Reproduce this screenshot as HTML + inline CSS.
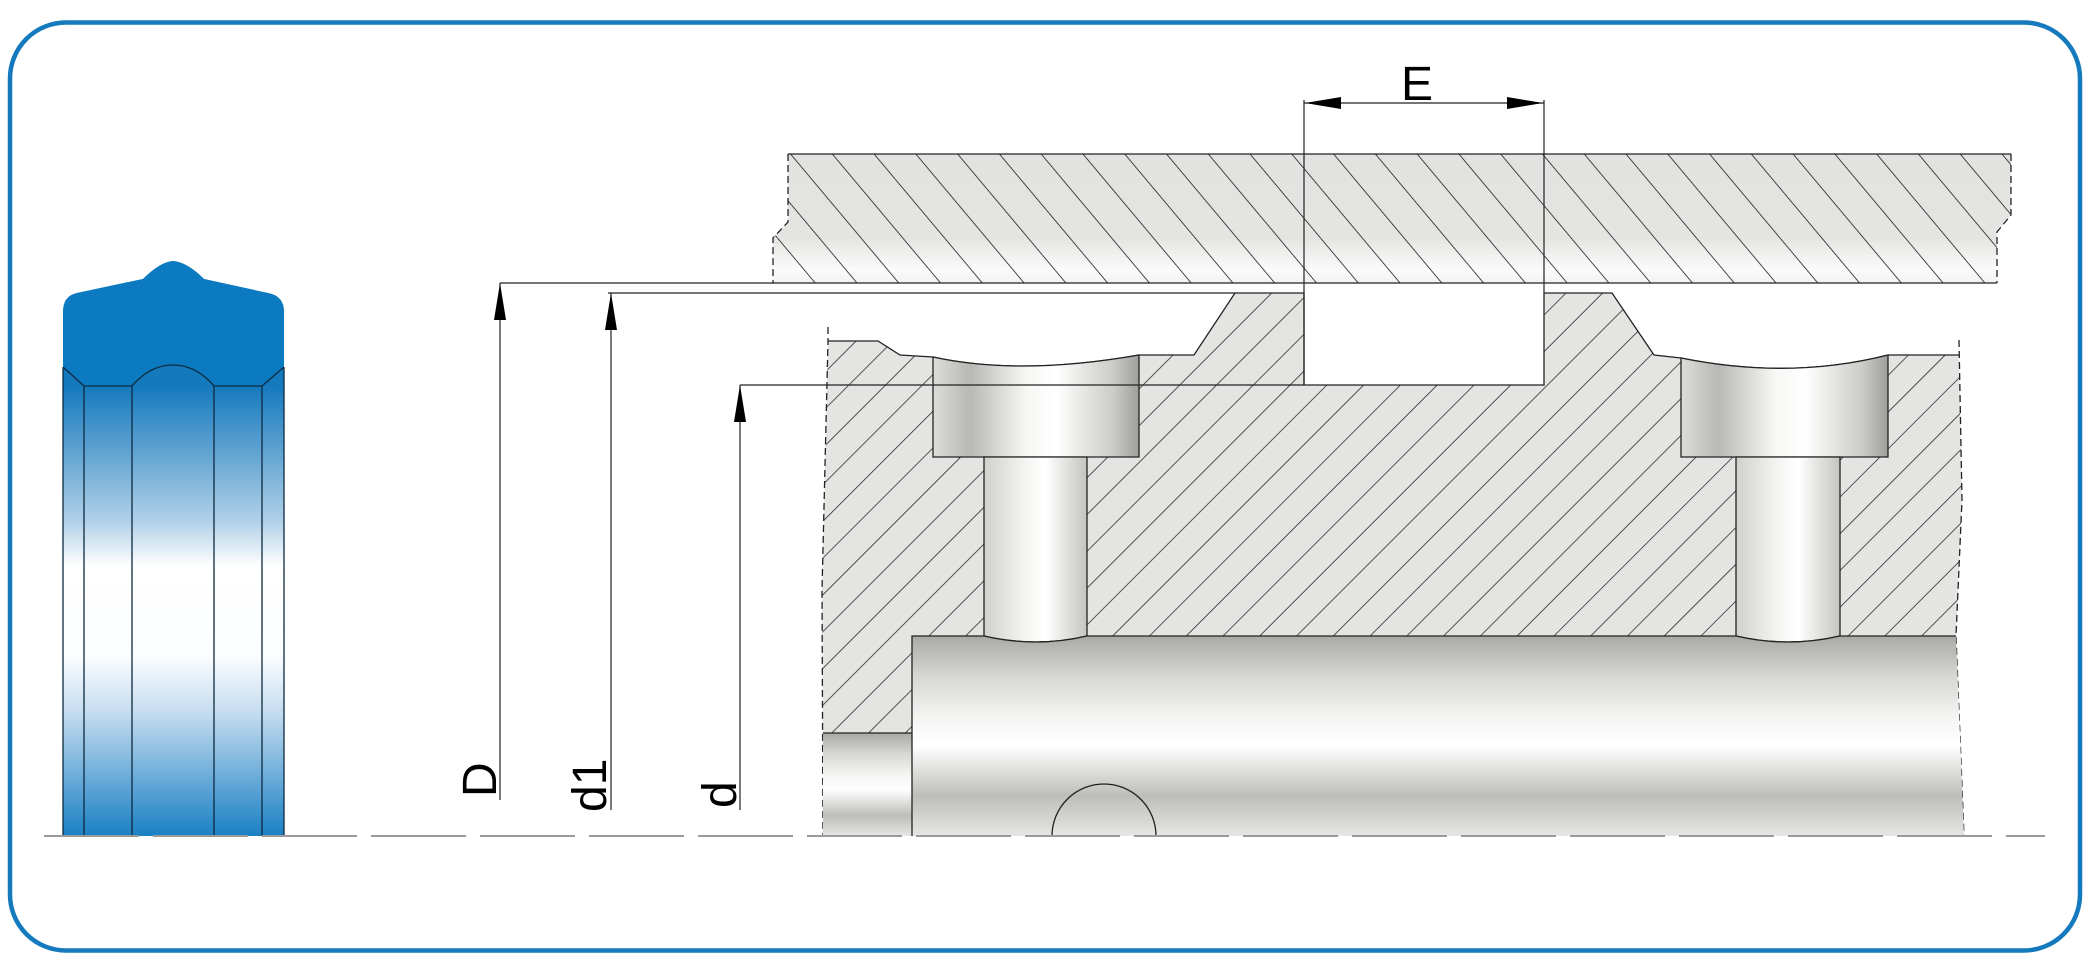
<!DOCTYPE html>
<html><head><meta charset="utf-8"><style>html,body{margin:0;padding:0;background:#fff}svg{display:block}</style></head>
<body>
<svg width="2092" height="961" viewBox="0 0 2092 961" xmlns="http://www.w3.org/2000/svg">
<defs>
<pattern id="h1" patternUnits="userSpaceOnUse" width="32" height="32" patternTransform="translate(790,154) rotate(-40)">
<line x1="0" y1="-5" x2="0" y2="40" stroke="#111" stroke-width="1.5"/></pattern>
<pattern id="h2" patternUnits="userSpaceOnUse" width="26" height="26" patternTransform="translate(830,293) rotate(45)">
<line x1="0" y1="-5" x2="0" y2="40" stroke="#222" stroke-width="1.5"/></pattern>
<linearGradient id="plate" x1="0" y1="0" x2="0" y2="1">
<stop offset="0" stop-color="#e2e2e0"/><stop offset="0.65" stop-color="#e4e4e2"/><stop offset="0.9" stop-color="#fbfbfb"/><stop offset="1" stop-color="#f2f2f0"/></linearGradient>
<linearGradient id="shaft" x1="0" y1="0" x2="0" y2="1">
<stop offset="0" stop-color="#a9a9a5"/><stop offset="0.2" stop-color="#d6d6d3"/><stop offset="0.42" stop-color="#f6f6f5"/><stop offset="0.55" stop-color="#ffffff"/><stop offset="0.8" stop-color="#bdbdb9"/><stop offset="1" stop-color="#e6e6e4"/></linearGradient>
<linearGradient id="bore" x1="0" y1="0" x2="1" y2="0">
<stop offset="0" stop-color="#dcdcda"/><stop offset="0.18" stop-color="#b8b8b4"/><stop offset="0.45" stop-color="#f6f6f4"/><stop offset="0.6" stop-color="#ffffff"/><stop offset="0.88" stop-color="#cacac6"/><stop offset="1" stop-color="#9e9e9a"/></linearGradient>
<linearGradient id="pipe" x1="0" y1="0" x2="1" y2="0">
<stop offset="0" stop-color="#d0d0cd"/><stop offset="0.4" stop-color="#f4f4f2"/><stop offset="0.6" stop-color="#ffffff"/><stop offset="1" stop-color="#c4c4c0"/></linearGradient>
<linearGradient id="seal" x1="0" y1="386" x2="0" y2="836" gradientUnits="userSpaceOnUse">
<stop offset="0" stop-color="#1479bd"/><stop offset="0.3" stop-color="#b0d0e8"/><stop offset="0.4" stop-color="#ffffff"/><stop offset="0.6" stop-color="#fbfdff"/><stop offset="0.72" stop-color="#c8def0"/><stop offset="1" stop-color="#1a80c4"/></linearGradient>
</defs>

<rect x="10" y="22.5" width="2070" height="928" rx="56" ry="56" fill="none" stroke="#1479bd" stroke-width="4.5"/>

<path d="M63,386 L63,312 Q63,296 77,293 L143,279 Q160,262 173,261 Q187,262 204,279 L268,293 Q284,296 284,312 L284,836 L63,836 Z" fill="url(#seal)"/>
<path d="M63,312 Q63,296 77,293 L143,279 Q160,262 173,261 Q187,262 204,279 L268,293 Q284,296 284,312 L284,367 L262,386 L214,386 Q196,365 173,365 Q150,365 132,386 L84,386 L63,367 Z" fill="#0c7ac0"/>
<g stroke="#0d2a40" stroke-width="1.3" fill="none">
<path d="M63,367 L84,386 L132,386 Q150,365 173,365 Q196,365 214,386 L262,386 L284,367"/>
<line x1="84" y1="386" x2="84" y2="836"/><line x1="132" y1="386" x2="132" y2="836"/>
<line x1="214" y1="386" x2="214" y2="836"/><line x1="262" y1="386" x2="262" y2="836"/>
<line x1="63" y1="367" x2="63" y2="836"/><line x1="284" y1="367" x2="284" y2="836"/>
</g>

<path d="M788,154 L2011,154 L2011,215 L1997,232 L1997,283 L773,283 L773,238 L788,222 Z" fill="url(#plate)"/>
<path d="M788,154 L2011,154 L2011,215 L1997,232 L1997,283 L773,283 L773,238 L788,222 Z" fill="url(#h1)"/>
<g stroke="#222" stroke-width="1.3" fill="none">
<line x1="788" y1="154" x2="2011" y2="154"/>
<line x1="500" y1="283" x2="1997" y2="283"/>
<path d="M788,154 L788,222 L773,238 L773,283" stroke-dasharray="7,4"/>
<path d="M2011,154 L2011,215 L1997,232 L1997,283" stroke-dasharray="7,4"/>
</g>

<path d="M828,341 L878,341 L900,355 L933,357 Q1020,376 1139,355 L1194,355 L1235,293 L1304,293 L1304,385 L1544,385 L1544,293 L1612,293 L1654,355 L1681,358 Q1790,380 1888,355 L1959,355 L1962,500 L1956,636 L912,636 L912,733 L823,733 L822,590 Z" fill="#e4e4e2"/>
<path d="M828,341 L878,341 L900,355 L933,357 Q1020,376 1139,355 L1194,355 L1235,293 L1304,293 L1304,385 L1544,385 L1544,293 L1612,293 L1654,355 L1681,358 Q1790,380 1888,355 L1959,355 L1962,500 L1956,636 L912,636 L912,733 L823,733 L822,590 Z" fill="url(#h2)"/>
<g stroke="#222" stroke-width="1.3" fill="none">
<path d="M828,341 L878,341 L900,355 L933,357 Q1020,376 1139,355 L1194,355 L1235,293 L1304,293 L1304,385 L1544,385 L1544,293 L1612,293 L1654,355 L1681,358 Q1790,380 1888,355 L1959,355"/>
<path d="M828,327 L828,341 L822,590 L823,836" stroke-dasharray="7,4"/>
<path d="M1959,340 L1962,500 L1956,636 L1964,836" stroke-dasharray="7,4"/>
</g>

<path d="M933,357 Q1020,376 1139,355 L1139,457 L933,457 Z" fill="url(#bore)" stroke="#222" stroke-width="1.3"/>
<path d="M1681,358 Q1790,380 1888,355 L1888,457 L1681,457 Z" fill="url(#bore)" stroke="#222" stroke-width="1.3"/>
<path d="M984,457 L1087,457 L1087,636 Q1036,648 984,636 Z" fill="url(#pipe)" stroke="#222" stroke-width="1.3"/>
<path d="M1736,457 L1840,457 L1840,636 Q1788,648 1736,636 Z" fill="url(#pipe)" stroke="#222" stroke-width="1.3"/>

<rect x="823" y="733" width="89" height="103" fill="url(#shaft)"/>
<line x1="823" y1="733" x2="912" y2="733" stroke="#222" stroke-width="1.3"/>
<path d="M912,636 L984,636 Q1036,648 1087,636 L1736,636 Q1788,648 1840,636 L1956,636 L1964,836 L912,836 Z" fill="url(#shaft)"/>
<path d="M912,836 L912,636 L984,636 Q1036,648 1087,636 L1736,636 Q1788,648 1840,636 L1956,636" fill="none" stroke="#222" stroke-width="1.3"/>
<path d="M1052,836 A52,52 0 0 1 1156,836" fill="none" stroke="#222" stroke-width="1.3"/>

<line x1="44" y1="836" x2="2045" y2="836" stroke="#9a9a9a" stroke-width="2" stroke-dasharray="95,14"/>

<g stroke="#222" stroke-width="1.2" fill="none">
<line x1="500" y1="283" x2="500" y2="800"/>
<line x1="611" y1="293" x2="611" y2="810"/>
<line x1="608" y1="293" x2="1235" y2="293"/>
<line x1="740" y1="385" x2="740" y2="810"/>
<line x1="740" y1="385" x2="1304" y2="385"/>
<line x1="1304" y1="100" x2="1304" y2="385"/>
<line x1="1544" y1="100" x2="1544" y2="293"/>
<line x1="1304" y1="103" x2="1544" y2="103"/>
</g>
<g fill="#000">
<polygon points="500,283 494,320 506,320"/>
<polygon points="611,293 605,330 617,330"/>
<polygon points="740,385 734,422 746,422"/>
<polygon points="1305,103 1341,97 1341,109"/>
<polygon points="1543,103 1507,97 1507,109"/>
</g>
<g font-family="Liberation Sans, sans-serif" font-size="48" fill="#000">
<text x="1417" y="100" text-anchor="middle">E</text>
<text transform="translate(496,797) rotate(-90)">D</text>
<text transform="translate(606,812) rotate(-90)">d1</text>
<text transform="translate(736,808) rotate(-90)">d</text>
</g>
</svg>
</body></html>
